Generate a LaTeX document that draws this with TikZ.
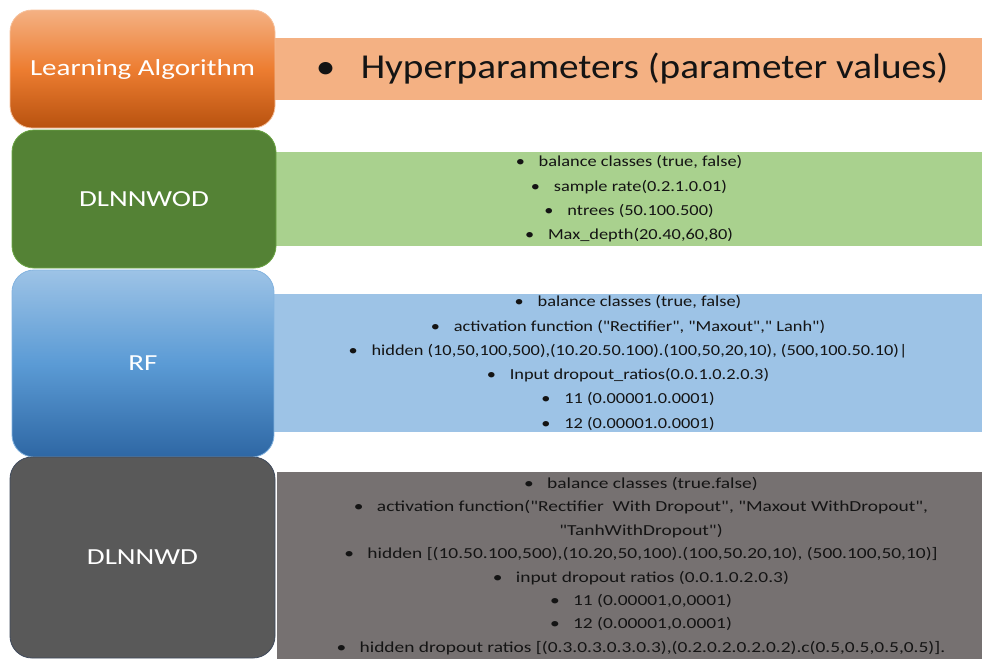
\documentclass[tikz,border=0pt]{standalone}
\usepackage{fontspec}
\setmainfont{Carlito}[Ligatures=TeXOff]
\newfontfamily\lblfont{Carlito}[FakeStretch=1.26,Ligatures=TeXOff]
\newfontfamily\hdrfont{Carlito}[FakeStretch=1.12,Ligatures=TeXOff]
\newfontfamily\txtfont{Carlito}[FakeStretch=1.2,Ligatures=TeXOff]
\newfontfamily\txtgfont{Carlito}[FakeStretch=1.27,Ligatures=TeXOff]
\definecolor{orTop}{HTML}{F4B183}
\definecolor{orMid}{HTML}{ED7D31}
\definecolor{orBot}{HTML}{B8520F}
\definecolor{orBar}{HTML}{F4B183}
\definecolor{grBox}{HTML}{548235}
\definecolor{grEdge}{HTML}{70AD47}
\definecolor{grBar}{HTML}{A9D18E}
\definecolor{blTop}{HTML}{9DC3E6}
\definecolor{blMid}{HTML}{5B9BD5}
\definecolor{blBot}{HTML}{2E67A4}
\definecolor{blBar}{HTML}{9DC3E6}
\definecolor{gyBox}{HTML}{595959}
\definecolor{gyEdge}{HTML}{3F4A5C}
\definecolor{gyBar}{HTML}{767171}
\definecolor{txt}{HTML}{141414}
\newcommand{\bul}{\makebox[23pt][l]{\textbullet}}
\begin{document}
\begin{tikzpicture}[x=1pt,y=-1pt,
  lbox/.style={rounded corners=22pt, inner sep=0pt, text=white,
    font=\lblfont\fontsize{23}{28}\selectfont, line width=0.8pt},
  bar/.style={inner sep=0pt, text=txt, align=center},
  small/.style={font=\txtfont\fontsize{15.3}{24.3}\selectfont},
  smallg/.style={font=\txtgfont\fontsize{15.3}{23.45}\selectfont}]
\useasboundingbox (0,0) rectangle (982,659);
% right bars
\node[bar, fill=orBar, minimum width=707pt, minimum height=62pt] (hbar) at (628.5,69) {};
\node[bar, font=\hdrfont\fontsize{35}{40}\selectfont] (htxt) at (632,69)
  {\makebox[45pt][l]{\textbullet}Hyperparameters (parameter values)};
\node[bar, small, fill=grBar, minimum width=706pt, minimum height=94pt] (gbar) at (629,199)
  {\bul balance classes (true, false)\\
   \bul sample rate(0.2.1.0.01)\\
   \bul ntrees (50.100.500)\\
   \bul Max\_depth(20.40,60,80)};
\node[bar, small, fill=blBar, minimum width=708pt, minimum height=138pt] (bbar) at (628,363)
  {\bul balance classes (true, false)\\
   \bul activation function ("Rectifier", "Maxout"," Lanh")\\
   \bul hidden (10,50,100,500),(10.20.50.100).(100,50,20,10), (500,100.50.10)|\\
   \bul Input dropout\_ratios(0.0.1.0.2.0.3)\\
   \bul 11 (0.00001.0.0001)\\
   \bul 12 (0.00001.0.0001)};
\node[bar, fill=gyBar, minimum width=705pt, minimum height=187pt] (ybar) at (629.5,565.5) {};
\node[bar, smallg] (ytxt) at (641,566)
  {\bul balance classes (true.false)\\
   \bul activation function("Rectifier\ \ With Dropout", "Maxout WithDropout",\\
   "TanhWithDropout")\\
   \bul hidden [(10.50.100,500),(10.20,50,100).(100,50.20,10), (500.100,50,10)]\\
   \bul input dropout ratios (0.0.1.0.2.0.3)\\
   \bul 11 (0.00001,0,0001)\\
   \bul 12 (0.00001,0.0001)\\
   \bul hidden dropout ratios [(0.3.0.3.0.3.0.3),(0.2.0.2.0.2.0.2).c(0.5,0.5,0.5,0.5)].};
% left boxes
\node[lbox, top color=orTop, bottom color=orBot, middle color=orMid, draw=orTop!80!white,
  minimum width=265pt, minimum height=118pt] (alg) at (142.5,69) {Learning Algorithm};
\node[lbox, fill=grBox, draw=grEdge!80!grBox,
  minimum width=264pt, minimum height=138pt] (wod) at (144,199) {DLNNWOD};
\node[lbox, top color=blTop, bottom color=blBot, middle color=blMid, draw=blTop!60!blMid,
  minimum width=262pt, minimum height=187pt] (rf) at (143,363.5) {RF};
\node[lbox, fill=gyBox, draw=gyEdge,
  minimum width=265pt, minimum height=201pt] (wd) at (142.5,557.5) {DLNNWD};
\end{tikzpicture}
\end{document}
